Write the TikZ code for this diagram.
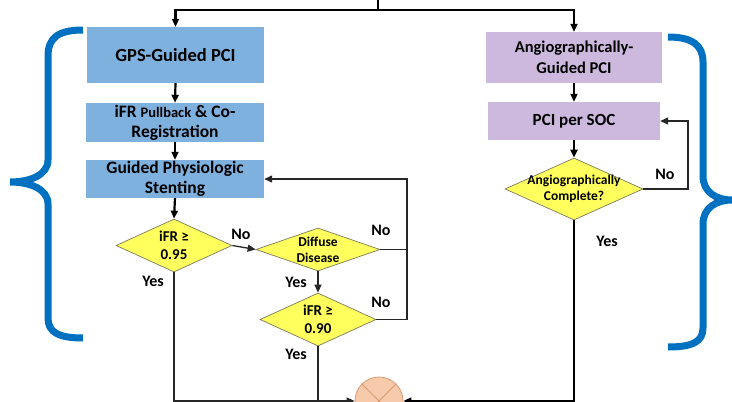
\documentclass[tikz,border=0pt]{standalone}
\usepackage{fontspec}
\setmainfont{Carlito}
\usetikzlibrary{arrows.meta,shapes.geometric}
\definecolor{boxblue}{HTML}{7FB1DF}
\definecolor{boxlav}{HTML}{CDB9DD}
\definecolor{dyellow}{HTML}{FFFF5E}
\definecolor{dborder}{HTML}{7A7A5A}
\definecolor{bracecol}{HTML}{0070C0}
\definecolor{sumfill}{HTML}{F7CAAB}
\definecolor{sumdraw}{HTML}{D99A70}
\definecolor{lncol}{HTML}{262626}
\tikzset{
  bluebox/.style={rectangle,fill=boxblue,inner sep=1pt,align=center,font=\bfseries\fontsize{17.5}{20}\selectfont},
  lavbox/.style={rectangle,fill=boxlav,inner sep=1pt,align=center,font=\bfseries\fontsize{16.5}{21}\selectfont},
  decision/.style={diamond,fill=dyellow,draw=dborder,line width=0.7pt,inner sep=0pt},
  dtext/.style={inner sep=0pt,align=center},
  flow/.style={draw=lncol,line width=1.3pt},
  thickflow/.style={draw=black,line width=2.2pt},
  arr/.style={-{Triangle[length=8pt,width=7pt]}},
  lbl/.style={font=\bfseries\fontsize{16}{17}\selectfont,inner sep=0pt},
  bracestyle/.style={draw=bracecol,line width=7pt}
}
\begin{document}
\begin{tikzpicture}[x=1pt,y=-1pt]
\useasboundingbox (0,0) rectangle (732,402);
% boxes
\node[bluebox,minimum width=177pt,minimum height=56pt,font=\bfseries\fontsize{18.5}{20}\selectfont] (gps) at (175.5,55) {GPS-Guided PCI};
\node[bluebox,minimum width=178pt,minimum height=39pt] (pull) at (175,122.5) {iFR {\fontsize{14.5}{20}\selectfont Pullback} \& Co-\\Registration};
\node[bluebox,minimum width=178pt,minimum height=38pt] (stent) at (175,179) {Guided Physiologic\\Stenting};
\node[lavbox,minimum width=176pt,minimum height=51pt] (angio) at (574,57.5) {Angiographically-\\Guided PCI};
\node[lavbox,minimum width=172pt,minimum height=38pt,font=\bfseries\fontsize{17}{20}\selectfont] (soc) at (574,121) {PCI per SOC};
% decisions
\node[decision,minimum width=116pt,minimum height=53pt] (d1) at (174,245.5) {};
\node[dtext,font=\bfseries\fontsize{15}{18.5}\selectfont] (t1) at (d1.center) {iFR ≥\\0.95};
\node[decision,minimum width=124pt,minimum height=43pt] (d2) at (318,249.5) {};
\node[dtext,font=\bfseries\fontsize{13.5}{16}\selectfont] (t2) at (d2.center) {Diffuse\\Disease};
\node[decision,minimum width=116pt,minimum height=53pt] (d3) at (318,319.5) {};
\node[dtext,font=\bfseries\fontsize{15}{18.5}\selectfont] (t3) at (d3.center) {iFR ≥\\0.90};
\node[decision,minimum width=138pt,minimum height=62pt] (d4) at (574,189) {};
\node[dtext,font=\bfseries\fontsize{13.5}{16}\selectfont] (t4) at (d4.center) {Angiographically\\Complete?};
% summing junction
\node[circle,fill=sumfill,draw=sumdraw,line width=0.8pt,minimum size=48pt,inner sep=0pt] (sum) at (379,401) {};
\draw[sumdraw,line width=0.8pt] (sum.north west) -- (sum.south east) (sum.north east) -- (sum.south west);
% top split
\coordinate (top) at (378,0);
\coordinate (split) at (378,10);
\draw[thickflow] (top) -- (split);
\draw[thickflow,arr] (split) -| (gps.north);
\draw[thickflow,arr] (split) -| (angio.north);
% left column
\draw[thickflow,arr] (gps.south) -- (pull.north);
\draw[thickflow,arr] (pull.south) -- (stent.north);
\draw[thickflow,arr] (stent.south) -- (d1.north);
\draw[flow,arr] (d1.east) -- (d2.west);
\draw[flow,arr] (d2.south) -- (d3.north);
\coordinate (loopA) at (407,249.5);
\coordinate (loopB) at (407,319.5);
\draw[flow] (d2.east) -- (loopA);
\draw[flow,arr] (d3.east) -- (loopB) |- (stent.east);
\coordinate (b1) at (174,401);
\coordinate (b3) at (318,401);
\draw[flow,arr] (d1.south) -- (b1) -- (sum.west);
\draw[flow] (d3.south) -- (b3);
% right column
\draw[thickflow,arr] (angio.south) -- (soc.north);
\draw[thickflow,arr] (soc.south) -- (d4.north);
\coordinate (loopC) at (688,189);
\draw[flow,arr] (d4.east) -- (loopC) |- (soc.east);
\coordinate (b4) at (574,401);
\draw[thickflow,line width=1.8pt,arr] (d4.south) -- (b4) -- (sum.east);
% labels
\node[lbl] (l1) at (241,234) {No};
\node[lbl] (l2) at (296,282) {Yes};
\node[lbl] (l3) at (381,230) {No};
\node[lbl] (l4) at (381,302) {No};
\node[lbl] (l5) at (153,281) {Yes};
\node[lbl] (l6) at (296,354) {Yes};
\node[lbl] (l7) at (665,174) {No};
\node[lbl] (l8) at (607,241) {Yes};
% braces
\draw[bracestyle] (83,30) .. controls (58,30) and (48,38) .. (48,56) -- (48,160)
  .. controls (48,175) and (30,182) .. (10,182)
  .. controls (30,182) and (48,189) .. (48,204) -- (48,318)
  .. controls (48,332) and (58,338) .. (83,338);
\draw[bracestyle] (668,37) .. controls (692,37) and (703,45) .. (703,62) -- (703,176)
  .. controls (703,192) and (716,200) .. (732,200)
  .. controls (716,200) and (703,208) .. (703,224) -- (703,328)
  .. controls (703,342) and (692,347) .. (668,347);
\end{tikzpicture}
\end{document}
